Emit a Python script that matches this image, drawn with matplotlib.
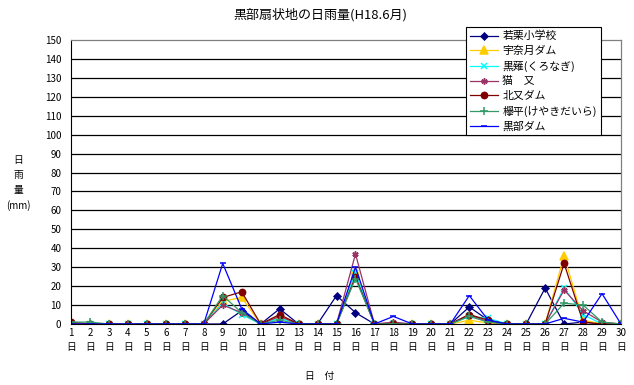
import numpy as np
import matplotlib
matplotlib.use('Agg')
import matplotlib.pyplot as plt

plt.rcParams['font.family'] = ['Noto Sans CJK JP', 'DejaVu Sans']

# --- データ (mm) ---
days = list(range(1, 31))
day_labels = [f'{d}\n日' for d in days]

wakaguri = [0, 0, 0, 0, 0, 0, 0, 0, 0, 7, 0, 8, 0, 0, 15, 6, 0, 0, 0, 0, 0, 9, 2, 0, 0, 19, 0, 1, 0, 0]
unazuki = [0, 0, 0, 0, 0, 0, 0, 0, 12, 14, 0, 4, 0, 0, 0, 28, 0, 0, 0, 0, 0, 2, 0.5, 0, 0, 0, 36, 2, 0, 0]
kuronagi = [0, 0, 0, 0, 0, 0, 0, 0, 11, 5, 0, 3, 0, 0, 0, 27, 0, 0, 0, 0, 0, 4, 3, 0, 0, 0, 19, 5, 0, 0]
nekomata = [0, 0, 0, 0, 0, 0, 0, 0, 10, 6, 0, 4, 0, 0, 0, 37, 0, 1, 0, 0, 0, 5, 1, 0, 0, 0, 18, 7, 1, 0]
kitamata = [1, 0, 0, 0, 0, 0, 0, 0, 14, 17, 0, 5, 0, 0, 0, 25, 0, 0, 0, 0, 0, 5, 2, 0, 0, 0, 32, 1, 0, 0]
keyakidaira = [1, 1, 0, 0, 0, 0, 0, 0, 15, 6, 0, 2, 0, 0, 0, 24, 0, 0, 0, 0, 0, 4, 1, 0, 0, 0, 11, 10, 1, 0]
kurobe_dam = [0, 0, 0, 0, 0, 0, 0, 0, 32, 8, 0, 1, 0, 0, 0, 30, 0, 4, 0, 0, 0, 15, 2, 0, 0, 0, 3, 1, 16, 0]

names = ['若栗小学校', '宇奈月ダム', '黒薙(くろなぎ)', '猫\u3000又', '北又ダム', '欅平(けやきだいら)', '黒部ダム']
series = [wakaguri, unazuki, kuronagi, nekomata, kitamata, keyakidaira, kurobe_dam]
colors = ['#000080', '#FFCC00', '#00FFFF', '#993366', '#800000', '#339966', '#0000FF']
markers = ['D', '^', 'x', (6, 2, 0), 'o', '+', '_']
msizes = [3.5, 5.5, 4, 4.5, 4.5, 5.5, 5]

fig = plt.figure(figsize=(6.34, 3.85), dpi=100, facecolor='white')
ax = fig.add_axes([71 / 634, 1 - 324 / 385, 550 / 634, 284 / 385])

for s, name, c, m, ms in zip(series, names, colors, markers, msizes):
    ax.plot(days, s, color=c, lw=0.9, marker=m, markersize=ms,
            markeredgewidth=1.1, markerfacecolor=c, markeredgecolor=c, label=name)

ax.set_xlim(1, 30)
ax.set_ylim(0, 150)
ax.set_yticks(np.arange(0, 151, 10))
ax.set_xticks(days)
ax.set_xticklabels(day_labels, fontsize=7, linespacing=1.5)
ax.tick_params(axis='y', labelsize=7, length=0, pad=7)
ax.tick_params(axis='x', length=0, pad=3)

for v in range(10, 150, 10):
    ax.axhline(v, color='black', lw=0.9, zorder=0)
for side in ['top', 'right']:
    ax.spines[side].set_color('#808080')
    ax.spines[side].set_linewidth(0.9)
ax.spines['left'].set_color('black')
ax.spines['bottom'].set_color('black')

fig.text(320 / 634, 1 - 15 / 385, '黒部扇状地の日雨量(H18.6月)', ha='center', va='center', fontsize=9.4)
fig.text(18 / 634, 1 - 183 / 385, '日\n雨\n量\n(mm)', ha='center', va='center', fontsize=7, linespacing=1.6)
fig.text(320 / 634, 1 - 376 / 385, '日\u3000付', ha='center', va='center', fontsize=7)

leg = ax.legend(loc='upper left', bbox_to_anchor=(466 / 634, 1 - 27 / 385), bbox_transform=fig.transFigure,
                fontsize=7.8, frameon=True, fancybox=False, framealpha=1, edgecolor='black',
                borderpad=0.35, borderaxespad=0, labelspacing=0.42, handlelength=2.6, handletextpad=0.4)
leg.get_frame().set_linewidth(0.8)

fig.savefig('out.png', dpi=100, facecolor='white')
